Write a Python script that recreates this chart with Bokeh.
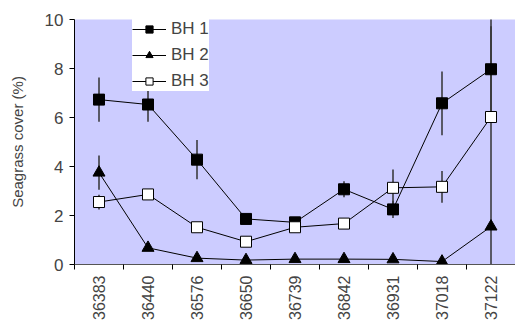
import math
from bokeh.plotting import figure
from bokeh.models import FixedTicker, Legend, LegendItem, Range1d
from bokeh.embed import file_html
from bokeh.resources import INLINE

dates = ["36383", "36440", "36576", "36650", "36739", "36842", "36931", "37018", "37122"]
bh1 = [6.73, 6.53, 4.28, 1.86, 1.72, 3.07, 2.25, 6.58, 7.97]
bh1_err = [0.9, 0.7, 0.8, 0.15, 0.1, 0.33, 0.35, 1.3, 1.75]
bh2 = [3.75, 0.68, 0.26, 0.18, 0.22, 0.22, 0.21, 0.12, 1.55]
bh2_err = [0.7, 0.05, 0.05, 0.03, 0.03, 0.03, 0.03, 0.03, 0.1]
bh3 = [2.55, 2.86, 1.52, 0.93, 1.52, 1.67, 3.13, 3.17, 6.02]
bh3_err = [0.3, 0.1, 0.1, 0.1, 0.1, 0.15, 0.75, 0.65, 6.0]

FONT = "Liberation Sans"
xs = [i + 0.5 for i in range(len(dates))]

p = figure(width=515, height=322, output_backend="svg", toolbar_location=None,
           x_range=Range1d(0, len(dates)), y_range=Range1d(0, 10),
           min_border_left=74, min_border_top=19, min_border_bottom=58, min_border_right=0)
p.background_fill_color = "#CCCCFF"
p.border_fill_color = "white"
p.outline_line_color = None
p.xgrid.visible = False
p.ygrid.visible = False

# error bars
for vals, errs in ((bh1, bh1_err), (bh2, bh2_err), (bh3, bh3_err)):
    p.segment(x0=xs, x1=xs, y0=[v - e for v, e in zip(vals, errs)],
              y1=[v + e for v, e in zip(vals, errs)], line_color="#333333", line_width=1.5)

l1 = p.line(xs, bh1, line_color="black", line_width=1)
s1 = p.scatter(xs, bh1, marker="square", size=11, fill_color="black", line_color="black")
l2 = p.line(xs, bh2, line_color="black", line_width=1)
s2 = p.scatter(xs, bh2, marker="triangle", size=12, fill_color="black", line_color="black")
l3 = p.line(xs, bh3, line_color="black", line_width=1)
s3 = p.scatter(xs, bh3, marker="square", size=11, fill_color="white", line_color="black")

legend = Legend(items=[LegendItem(label="BH 1", renderers=[l1, s1]),
                       LegendItem(label="BH 2", renderers=[l2, s2]),
                       LegendItem(label="BH 3", renderers=[l3, s3])],
                orientation="vertical")
legend.label_text_font = FONT
legend.label_text_font_size = "17px"
legend.glyph_width = 34
legend.glyph_height = 18
legend.label_height = 18
legend.label_standoff = 5
legend.spacing = 6
legend.padding = 1
legend.margin = 0
legend.border_line_color = None
legend.background_fill_color = "white"
legend.background_fill_alpha = 1.0
legend.location = (58, 173)
p.add_layout(legend, "center")

# y axis
p.yaxis.ticker = FixedTicker(ticks=[0, 2, 4, 6, 8, 10])
p.yaxis.axis_label = "Seagrass cover (%)"
p.yaxis.axis_label_text_font = FONT
p.yaxis.axis_label_text_font_size = "15px"
p.yaxis.axis_label_text_font_style = "normal"
p.yaxis.axis_label_standoff = 16
p.yaxis.major_label_text_font = FONT
p.yaxis.major_label_text_font_size = "17px"
p.yaxis.major_label_standoff = 6
p.yaxis.major_tick_out = 5
p.yaxis.major_tick_in = 0
p.yaxis.minor_tick_out = 0
p.yaxis.minor_tick_in = 0
p.yaxis.axis_line_color = "black"
p.yaxis.major_tick_line_color = "black"

# x axis
p.xaxis.ticker = FixedTicker(ticks=xs, minor_ticks=list(range(len(dates) + 1)))
p.xaxis.major_label_overrides = {x: d for x, d in zip(xs, dates)}
p.xaxis.major_label_orientation = math.pi / 2
p.xaxis.major_label_text_font = FONT
p.xaxis.major_label_text_font_size = "16px"
p.xaxis.major_label_standoff = 6
p.xaxis.major_tick_out = 0
p.xaxis.major_tick_in = 0
p.xaxis.minor_tick_out = 5
p.xaxis.minor_tick_in = 0
p.xaxis.minor_tick_line_color = "black"
p.xaxis.axis_line_color = "#555555"

open("out.html", "w").write(file_html(p, INLINE))
